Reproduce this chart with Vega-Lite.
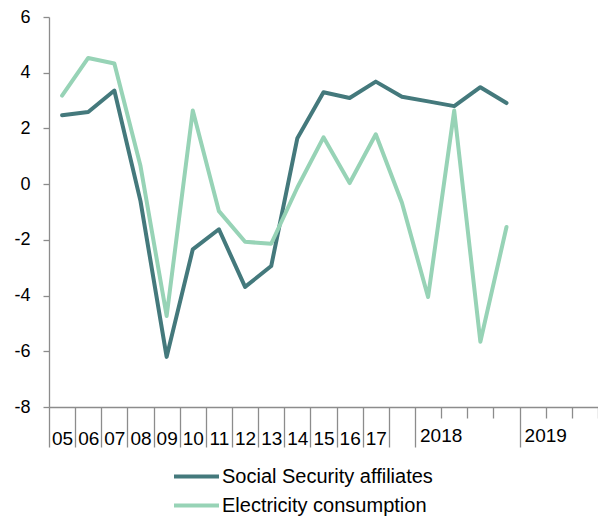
{
  "$schema": "https://vega.github.io/schema/vega-lite/v6.json",
  "width": 549,
  "height": 390,
  "autosize": {"type": "none"},
  "padding": {"left": 49, "top": 17, "right": 0, "bottom": 115},
  "config": {"view": {"stroke": null}, "font": "Liberation Sans"},
  "datasets": {
    "series": [
      {"period": "05", "series": "Social Security affiliates", "value": 2.47},
      {"period": "06", "series": "Social Security affiliates", "value": 2.59},
      {"period": "07", "series": "Social Security affiliates", "value": 3.36},
      {"period": "08", "series": "Social Security affiliates", "value": -0.61},
      {"period": "09", "series": "Social Security affiliates", "value": -6.2},
      {"period": "10", "series": "Social Security affiliates", "value": -2.34},
      {"period": "11", "series": "Social Security affiliates", "value": -1.62},
      {"period": "12", "series": "Social Security affiliates", "value": -3.69},
      {"period": "13", "series": "Social Security affiliates", "value": -2.94},
      {"period": "14", "series": "Social Security affiliates", "value": 1.65},
      {"period": "15", "series": "Social Security affiliates", "value": 3.3},
      {"period": "16", "series": "Social Security affiliates", "value": 3.09},
      {"period": "17", "series": "Social Security affiliates", "value": 3.68},
      {"period": "2018 Q1", "series": "Social Security affiliates", "value": 3.14},
      {"period": "2018 Q2", "series": "Social Security affiliates", "value": 2.97},
      {"period": "2018 Q3", "series": "Social Security affiliates", "value": 2.8},
      {"period": "2018 Q4", "series": "Social Security affiliates", "value": 3.48},
      {"period": "2019 Q1", "series": "Social Security affiliates", "value": 2.91},
      {"period": "05", "series": "Electricity consumption", "value": 3.18},
      {"period": "06", "series": "Electricity consumption", "value": 4.53},
      {"period": "07", "series": "Electricity consumption", "value": 4.33},
      {"period": "08", "series": "Electricity consumption", "value": 0.65},
      {"period": "09", "series": "Electricity consumption", "value": -4.73},
      {"period": "10", "series": "Electricity consumption", "value": 2.64},
      {"period": "11", "series": "Electricity consumption", "value": -0.97},
      {"period": "12", "series": "Electricity consumption", "value": -2.07},
      {"period": "13", "series": "Electricity consumption", "value": -2.14},
      {"period": "14", "series": "Electricity consumption", "value": -0.12},
      {"period": "15", "series": "Electricity consumption", "value": 1.68},
      {"period": "16", "series": "Electricity consumption", "value": 0.04},
      {"period": "17", "series": "Electricity consumption", "value": 1.79},
      {"period": "2018 Q1", "series": "Electricity consumption", "value": -0.67},
      {"period": "2018 Q2", "series": "Electricity consumption", "value": -4.05},
      {"period": "2018 Q3", "series": "Electricity consumption", "value": 2.64},
      {"period": "2018 Q4", "series": "Electricity consumption", "value": -5.66},
      {"period": "2019 Q1", "series": "Electricity consumption", "value": -1.54}
    ],
    "years": [
      {"period": "2018 Q3", "label": "2018", "value": -8},
      {"period": "2019 Q3", "label": "2019", "value": -8}
    ]
  },
  "layer": [
    {
      "data": {"name": "series"},
      "mark": {"type": "line", "strokeWidth": 4, "strokeJoin": "round", "strokeCap": "round"},
      "encoding": {
        "x": {
          "field": "period",
          "type": "ordinal",
          "bandPosition": 0.5,
          "scale": {
            "type": "band",
            "paddingInner": 0,
            "paddingOuter": 0,
            "domain": ["05","06","07","08","09","10","11","12","13","14","15","16","17","2018 Q1","2018 Q2","2018 Q3","2018 Q4","2019 Q1","2019 Q2","2019 Q3","2019 Q4"]
          },
          "axis": {
            "title": null,
            "tickBand": "extent",
            "labelAngle": 0,
            "labelOverlap": false,
            "labelBound": false,
            "labelExpr": "(isString(datum.value) && indexof(datum.value, 'Q') < 0) ? datum.label : ''",
            "labelFontSize": 19,
            "labelColor": "#000000",
            "labelPadding": -18,
            "domainColor": "#8c8c8c",
            "domainWidth": 1.3,
            "tickColor": "#8c8c8c",
            "tickWidth": 1.3,
            "tickSize": 40,
            "tickDash": {"condition": {"test": "isString(datum.value) && indexof(datum.value, 'Q') >= 0 && indexof(datum.value, 'Q1') < 0", "value": [11, 100]}, "value": [60, 1]},
            "grid": false
          }
        },
        "y": {
          "field": "value",
          "type": "quantitative",
          "scale": {"domain": [-8, 6], "nice": false, "zero": false},
          "axis": {
            "title": null,
            "values": [-8, -6, -4, -2, 0, 2, 4, 6],
            "labelExpr": "datum.value < 0 ? '-' + abs(datum.value) : '' + datum.value",
            "labelFontSize": 18,
            "labelColor": "#000000",
            "labelPadding": 13,
            "tickSize": 6,
            "tickColor": "#8c8c8c",
            "tickWidth": 1.3,
            "domainColor": "#8c8c8c",
            "domainWidth": 1.3,
            "grid": false
          }
        },
        "color": {
          "field": "series",
          "type": "nominal",
          "scale": {"domain": ["Social Security affiliates", "Electricity consumption"], "range": ["#44797c", "#97d3b6"]},
          "legend": {
            "title": null,
            "orient": "none",
            "legendX": 134,
            "legendY": 446,
            "padding": 0,
            "symbolType": "M-2,0H2",
            "symbolSize": 506,
            "symbolStrokeWidth": 4,
            "labelFontSize": 20,
            "labelColor": "#000000",
            "labelLimit": 500,
            "labelOffset": 12,
            "rowPadding": 5
          }
        }
      }
    },
    {
      "data": {"name": "years"},
      "mark": {"type": "text", "fontSize": 19, "baseline": "alphabetic", "align": "center", "dy": 35, "color": "#000000"},
      "encoding": {
        "x": {"field": "period", "type": "ordinal", "bandPosition": 0},
        "y": {"field": "value", "type": "quantitative"},
        "text": {"field": "label"}
      }
    }
  ]
}
